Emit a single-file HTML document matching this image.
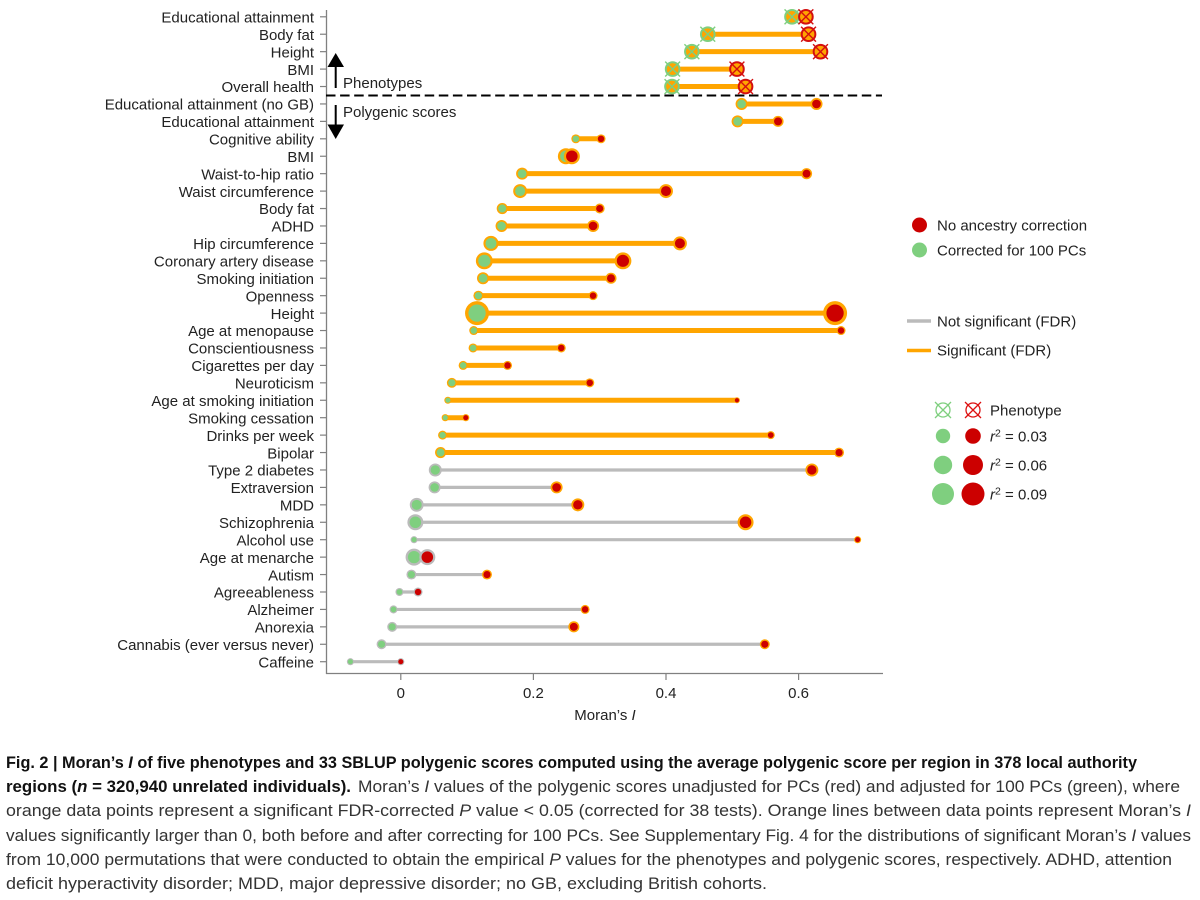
<!DOCTYPE html>
<html lang="en">
<head>
<meta charset="utf-8">
<title>Moran's I of phenotypes and polygenic scores</title>
<style>
html,body{margin:0;padding:0;background:#fff;width:1200px;height:900px;overflow:hidden}
svg{display:block;font-family:"Liberation Sans",Arial,sans-serif}
</style>
</head>
<body>
<svg id="chart" xmlns="http://www.w3.org/2000/svg" width="1200" height="900" viewBox="0 0 1200 900">
  <rect width="1200" height="900" fill="#fff"/>
  <g id="plot"></g>
  <line x1="326" x2="882" y1="95.5" y2="95.5" stroke="#000" stroke-width="2" stroke-dasharray="9.5 4.6"/>
  <g>
    <line x1="335.7" x2="335.7" y1="88" y2="66" stroke="#000" stroke-width="2"/>
    <polygon points="335.7,53 327.5,67 344,67" fill="#000"/>
    <text x="343" y="88" font-size="15" fill="#222">Phenotypes</text>
  </g>
  <g>
    <line x1="335.7" x2="335.7" y1="105" y2="125" stroke="#000" stroke-width="2"/>
    <polygon points="335.7,139 327.5,124.5 344,124.5" fill="#000"/>
    <text x="343" y="117" font-size="15" fill="#222">Polygenic scores</text>
  </g>
  <g font-size="15" fill="#222">
    <circle cx="919.5" cy="225" r="7.5" fill="#cc0000"/>
    <text x="937" y="230.5">No ancestry correction</text>
    <circle cx="919.5" cy="250" r="7.5" fill="#7fcf7f"/>
    <text x="937" y="255.5">Corrected for 100 PCs</text>
    <line x1="907" x2="931" y1="321" y2="321" stroke="#bbbbbb" stroke-width="3.6"/>
    <text x="937" y="326.5">Not significant (FDR)</text>
    <line x1="907" x2="931" y1="350.5" y2="350.5" stroke="#ffa500" stroke-width="3.6"/>
    <text x="937" y="355.5">Significant (FDR)</text>
    <g fill="none" stroke="#7fcf7f" stroke-width="1.3">
      <circle cx="943" cy="410" r="7"/>
      <path d="M935 402L951 418M951 402L935 418"/>
    </g>
    <g fill="none" stroke="#dd1111" stroke-width="1.3">
      <circle cx="973" cy="410" r="7"/>
      <path d="M965 402L981 418M981 402L965 418"/>
    </g>
    <text x="990" y="415.5">Phenotype</text>
    <circle cx="943" cy="436" r="7.2" fill="#7fcf7f"/>
    <circle cx="973" cy="436" r="7.8" fill="#cc0000"/>
    <text x="990" y="441.5"><tspan font-style="italic">r</tspan><tspan dy="-5" font-size="10.5">2</tspan><tspan dy="5"> = 0.03</tspan></text>
    <circle cx="943" cy="465" r="9.2" fill="#7fcf7f"/>
    <circle cx="973" cy="465" r="10" fill="#cc0000"/>
    <text x="990" y="470.5"><tspan font-style="italic">r</tspan><tspan dy="-5" font-size="10.5">2</tspan><tspan dy="5"> = 0.06</tspan></text>
    <circle cx="943" cy="494" r="11" fill="#7fcf7f"/>
    <circle cx="973" cy="494" r="11.5" fill="#cc0000"/>
    <text x="990" y="499.5"><tspan font-style="italic">r</tspan><tspan dy="-5" font-size="10.5">2</tspan><tspan dy="5"> = 0.09</tspan></text>
  </g>
  <g font-size="17" fill="#333">
    <text x="6" y="768" textLength="1131" lengthAdjust="spacingAndGlyphs" font-weight="bold" fill="#111">Fig. 2 | Moran’s <tspan font-style="italic">I</tspan> of five phenotypes and 33 SBLUP polygenic scores computed using the average polygenic score per region in 378 local authority</text>
    <text x="6" y="792" textLength="345" lengthAdjust="spacingAndGlyphs" font-weight="bold" fill="#111">regions (<tspan font-style="italic">n</tspan> = 320,940 unrelated individuals).</text>
    <text x="358" y="792" textLength="822" lengthAdjust="spacingAndGlyphs">Moran’s <tspan font-style="italic">I</tspan> values of the polygenic scores unadjusted for PCs (red) and adjusted for 100 PCs (green), where</text>
    <text x="6" y="816" textLength="1185" lengthAdjust="spacingAndGlyphs">orange data points represent a significant FDR-corrected <tspan font-style="italic">P</tspan> value &lt; 0.05 (corrected for 38 tests). Orange lines between data points represent Moran’s <tspan font-style="italic">I</tspan></text>
    <text x="6" y="841" textLength="1185" lengthAdjust="spacingAndGlyphs">values significantly larger than 0, both before and after correcting for 100 PCs. See Supplementary Fig. 4 for the distributions of significant Moran’s <tspan font-style="italic">I</tspan> values</text>
    <text x="6" y="865" textLength="1166" lengthAdjust="spacingAndGlyphs">from 10,000 permutations that were conducted to obtain the empirical <tspan font-style="italic">P</tspan> values for the phenotypes and polygenic scores, respectively. ADHD, attention</text>
    <text x="6" y="889" textLength="761" lengthAdjust="spacingAndGlyphs">deficit hyperactivity disorder; MDD, major depressive disorder; no GB, excluding British cohorts.</text>
  </g>
</svg>
<script>
const categories = ["Educational attainment","Body fat","Height","BMI","Overall health","Educational attainment (no GB)","Educational attainment","Cognitive ability","BMI","Waist-to-hip ratio","Waist circumference","Body fat","ADHD","Hip circumference","Coronary artery disease","Smoking initiation","Openness","Height","Age at menopause","Conscientiousness","Cigarettes per day","Neuroticism","Age at smoking initiation","Smoking cessation","Drinks per week","Bipolar","Type 2 diabetes","Extraversion","MDD","Schizophrenia","Alcohol use","Age at menarche","Autism","Agreeableness","Alzheimer","Anorexia","Cannabis (ever versus never)","Caffeine"];
const correctedI = [0.590,0.463,0.439,0.410,0.409,0.514,0.508,0.264,0.249,0.183,0.180,0.153,0.152,0.136,0.126,0.124,0.117,0.115,0.110,0.109,0.094,0.077,0.071,0.067,0.063,0.060,0.052,0.051,0.024,0.022,0.020,0.020,0.016,-0.002,-0.011,-0.013,-0.029,-0.076];
const uncorrectedI = [0.611,0.615,0.633,0.507,0.520,0.627,0.569,0.302,0.258,0.612,0.400,0.300,0.290,0.421,0.335,0.317,0.290,0.655,0.664,0.242,0.161,0.285,0.507,0.098,0.558,0.661,0.620,0.235,0.267,0.520,0.689,0.040,0.130,0.026,0.278,0.261,0.549,0.000];
const correctedR2 = [0.056,0.056,0.056,0.056,0.056,0.037,0.037,0.021,0.058,0.037,0.047,0.032,0.037,0.053,0.063,0.037,0.026,0.100,0.021,0.021,0.021,0.026,0.011,0.011,0.021,0.032,0.042,0.037,0.047,0.058,0.011,0.063,0.026,0.016,0.016,0.026,0.026,0.011];
const uncorrectedR2 = [0.056,0.056,0.056,0.056,0.056,0.037,0.032,0.021,0.058,0.032,0.047,0.026,0.037,0.047,0.063,0.032,0.021,0.100,0.021,0.021,0.021,0.021,0.005,0.011,0.016,0.026,0.042,0.037,0.042,0.058,0.011,0.058,0.026,0.021,0.021,0.032,0.026,0.011];
const isPhenotype = [1,1,1,1,1,0,0,0,0,0,0,0,0,0,0,0,0,0,0,0,0,0,0,0,0,0,0,0,0,0,0,0,0,0,0,0,0,0];
const lineSignificant = [1,1,1,1,1,1,1,1,1,1,1,1,1,1,1,1,1,1,1,1,1,1,1,1,1,1,0,0,0,0,0,0,0,0,0,0,0,0];
const correctedSignificant = [1,1,1,1,1,1,1,1,1,1,1,1,1,1,1,1,1,1,1,1,1,1,1,1,1,1,0,0,0,0,0,0,0,0,0,0,0,0];
const uncorrectedSignificant = [1,1,1,1,1,1,1,1,1,1,1,1,1,1,1,1,1,1,1,1,1,1,1,1,1,1,1,1,1,1,1,0,1,0,1,1,1,0];
const xTickValues = [0,0.2,0.4,0.6];
const xTickLabels = ["0","0.2","0.4","0.6"];

const SVGNS = "http://www.w3.org/2000/svg";
const plot = document.getElementById("plot");
const GREEN = "#7fcf7f", RED = "#cc0000", ORANGE = "#ffa500", GREY = "#bbbbbb", AXIS = "#808080";
function xScale(v){ return 400.8 + v * 663; }
function yScale(i){ return 16.8 + i * 17.43; }
function rScale(r2){ return 2.5 + 95 * r2; }
function make(tag, attrs, parent){
  const el = document.createElementNS(SVGNS, tag);
  for (const k in attrs) el.setAttribute(k, attrs[k]);
  (parent || plot).appendChild(el);
  return el;
}
function slug(s){ return s.toLowerCase().replace(/[^a-z0-9]+/g, "-").replace(/^-|-$/g, ""); }

const yAxis = make("line", {x1:326.5, x2:326.5, y1:10, y2:674, stroke:AXIS, "stroke-width":1.3});


const xAxis = make("line", {x1:326, x2:883, y1:673.5, y2:673.5, stroke:AXIS, "stroke-width":1.3});



xTickValues.forEach(function(v, k){
  const tick = make("line", {x1:xScale(v), x2:xScale(v), y1:673.5, y2:680, stroke:AXIS, "stroke-width":1.2});
  
  
  const label = make("text", {x:xScale(v), y:698, "text-anchor":"middle", "font-size":15, fill:"#222"});
  label.textContent = xTickLabels[k];
  
  
});

const xTitle = make("text", {x:605, y:720, "text-anchor":"middle", "font-size":15, fill:"#222"});
xTitle.innerHTML = 'Moran’s <tspan font-style="italic">I</tspan>';



categories.forEach(function(name, i){
  const y = yScale(i);
  const tick = make("line", {x1:320, x2:326.5, y1:y, y2:y, stroke:AXIS, "stroke-width":1.2});
  
  
  const label = make("text", {x:314, y:y + 5.7, "text-anchor":"end", "font-size":15, fill:"#222"});
  label.textContent = name;
  
  
});

categories.forEach(function(name, i){
  const line = make("line", {x1:xScale(correctedI[i]), x2:xScale(uncorrectedI[i]), y1:yScale(i), y2:yScale(i),
    stroke: lineSignificant[i] ? ORANGE : GREY, "stroke-width": lineSignificant[i] ? 5 : 3.2});
  
  
});

function drawPoint(i, value, r2, significant, color, seriesName){
  const cx = xScale(value), cy = yScale(i), R = rScale(r2);
  const ringColor = significant ? ORANGE : GREY;
  const group = make("g", {});
  
  
  if (isPhenotype[i]) {
    make("circle", {cx:cx, cy:cy, r:R - 1, fill:ORANGE, stroke:color, "stroke-width":2}, group);
    const d = R * 0.95;
    make("path", {d:"M"+(cx-d)+" "+(cy-d)+"L"+(cx+d)+" "+(cy+d)+"M"+(cx+d)+" "+(cy-d)+"L"+(cx-d)+" "+(cy+d),
      stroke:color, "stroke-width":1.4, fill:"none"}, group);
  } else {
    make("circle", {cx:cx, cy:cy, r:R, fill:ringColor}, group);
    make("circle", {cx:cx, cy:cy, r:R * 0.72, fill:color}, group);
  }
}
categories.forEach(function(name, i){
  drawPoint(i, correctedI[i], correctedR2[i], correctedSignificant[i], GREEN, "corrected");
});
categories.forEach(function(name, i){
  drawPoint(i, uncorrectedI[i], uncorrectedR2[i], uncorrectedSignificant[i], isPhenotype[i] ? "#d40f0f" : RED, "uncorrected");
});
</script>
</body>
</html>
